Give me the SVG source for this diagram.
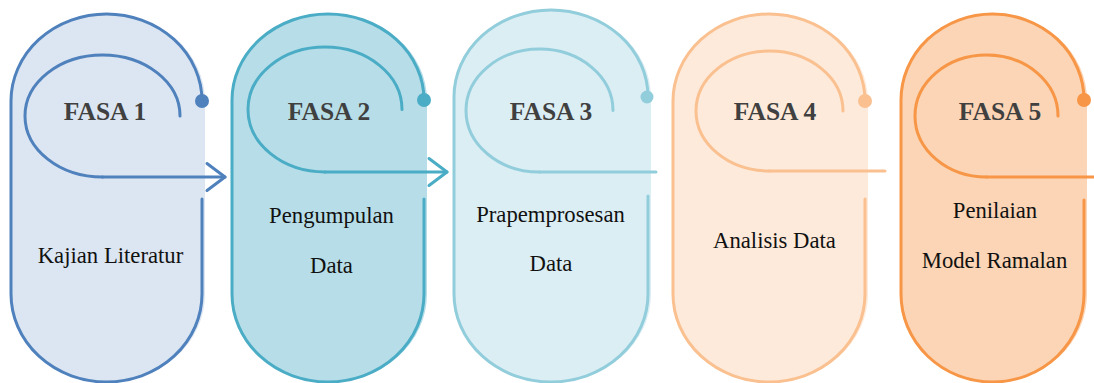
<svg xmlns="http://www.w3.org/2000/svg" width="1094" height="383" viewBox="0 0 1094 383">
<style>
.ln{fill:none;stroke-width:3;stroke-linecap:round}
.fasa{font-family:"Liberation Serif",serif;font-weight:bold;font-size:25.5px;fill:#404040;text-anchor:middle}
.lbl{font-family:"Liberation Serif",serif;font-size:22.7px;fill:#111111;text-anchor:middle}
.c1{stroke:#4F81BD}.c2{stroke:#4BACC6}.c3{stroke:#92CDDC}.c4{stroke:#FAC090}.c5{stroke:#F79646}
</style>
<defs>
<marker id="arr1" markerUnits="userSpaceOnUse" markerWidth="26" markerHeight="34" refX="21" refY="17" orient="auto">
<path d="M3,3.5 L21,17 L3,30.5" fill="none" stroke="#4F81BD" stroke-width="3" stroke-linecap="round" stroke-linejoin="round"/>
</marker>
<marker id="arr2" markerUnits="userSpaceOnUse" markerWidth="26" markerHeight="34" refX="21" refY="17" orient="auto">
<path d="M3,3.5 L21,17 L3,30.5" fill="none" stroke="#4BACC6" stroke-width="3" stroke-linecap="round" stroke-linejoin="round"/>
</marker>
</defs>
<rect width="1094" height="383" fill="#ffffff"/>

<g id="fasa1">
<path d="M11,101 A97,87 0 0 1 205,101 L205,294 A97,88 0 0 1 11,294 Z" fill="#DCE6F2"/>
<path class="ln c1" d="M202,101 A95.5,87 0 0 0 11,101 L11,294 A95.5,88 0 0 0 202,294 L202,199"/>
<path class="ln c1" d="M180,116 A77.5,61 0 0 0 25,116 A77.5,61 0 0 0 102.5,177"/>
<circle cx="202" cy="101" r="7" fill="#4F81BD"/>
<text class="fasa" x="105" y="119.5">FASA 1</text>
<text class="lbl" x="110.5" y="263">Kajian Literatur</text>
</g>

<g id="fasa2">
<path d="M232,100 A97.5,86 0 0 1 427,100 L427,294 A97.5,88 0 0 1 232,294 Z" fill="#B7DEE8"/>
<path class="ln c2" d="M424,100 A96,86 0 0 0 232,100 L232,294 A96,88 0 0 0 424,294 L424,199"/>
<path class="ln c2" d="M402,109.5 A77,62.5 0 0 0 248,109.5 A77,62.5 0 0 0 325,172"/>
<circle cx="424" cy="100" r="7" fill="#4BACC6"/>
<text class="fasa" x="329" y="119.5">FASA 2</text>
<text class="lbl" x="331.5" y="223">Pengumpulan</text>
<text class="lbl" x="331.5" y="273">Data</text>
</g>

<g id="fasa3">
<path d="M454,97 A98.5,87 0 0 1 651,97 L651,294 A98.5,88 0 0 1 454,294 Z" fill="#DBEEF4"/>
<path class="ln c3" d="M648,97 A97,87 0 0 0 454,97 L454,294 A97,88 0 0 0 648,294 L648,196"/>
<path class="ln c3" d="M613,110.5 A73.5,61.5 0 0 0 466,110.5 A73.5,61.5 0 0 0 539.5,172"/>
<circle cx="647" cy="97" r="6.5" fill="#92CDDC"/>
<text class="fasa" x="551" y="119.5">FASA 3</text>
<text class="lbl" x="550.5" y="222">Prapemprosesan</text>
<text class="lbl" x="551" y="271">Data</text>
</g>

<g id="fasa4">
<path d="M673,101 A97.5,87 0 0 1 868,101 L868,294 A97.5,88 0 0 1 673,294 Z" fill="#FDEADA"/>
<path class="ln c4" d="M865,101 A96,87 0 0 0 673,101 L673,294 A96,88 0 0 0 865,294 L865,199"/>
<path class="ln c4" d="M843,111 A73.5,60 0 0 0 696,111 A73.5,60 0 0 0 769.5,171"/>
<circle cx="865" cy="101" r="7" fill="#FAC090"/>
<text class="fasa" x="775" y="119.5">FASA 4</text>
<text class="lbl" x="774.5" y="248">Analisis Data</text>
</g>

<g id="fasa5">
<path d="M901,100 A93,86 0 0 1 1087,100 L1087,294 A93,88 0 0 1 901,294 Z" fill="#FBD5B5"/>
<path class="ln c5" d="M1084,100 A91.5,86 0 0 0 901,100 L901,294 A91.5,88 0 0 0 1084,294 L1084,200"/>
<path class="ln c5" d="M1058,116 A71.5,61 0 0 0 915,116 A71.5,61 0 0 0 986.5,177"/>
<circle cx="1084" cy="100" r="7" fill="#F79646"/>
<text class="fasa" x="1000" y="119.5">FASA 5</text>
<text class="lbl" x="995" y="218">Penilaian</text>
<text class="lbl" x="994.5" y="268">Model Ramalan</text>
</g>

<g id="connectors">
<path class="ln c1" d="M102.5,177 L225,177" marker-end="url(#arr1)"/>
<path class="ln c2" d="M325,172 L447,172" marker-end="url(#arr2)"/>
<path class="ln c3" d="M539.5,172 L656,172"/>
<path class="ln c4" d="M769.5,171 L885,171"/>
<path class="ln c5" d="M986.5,177 L1100,177"/>
</g>
</svg>
